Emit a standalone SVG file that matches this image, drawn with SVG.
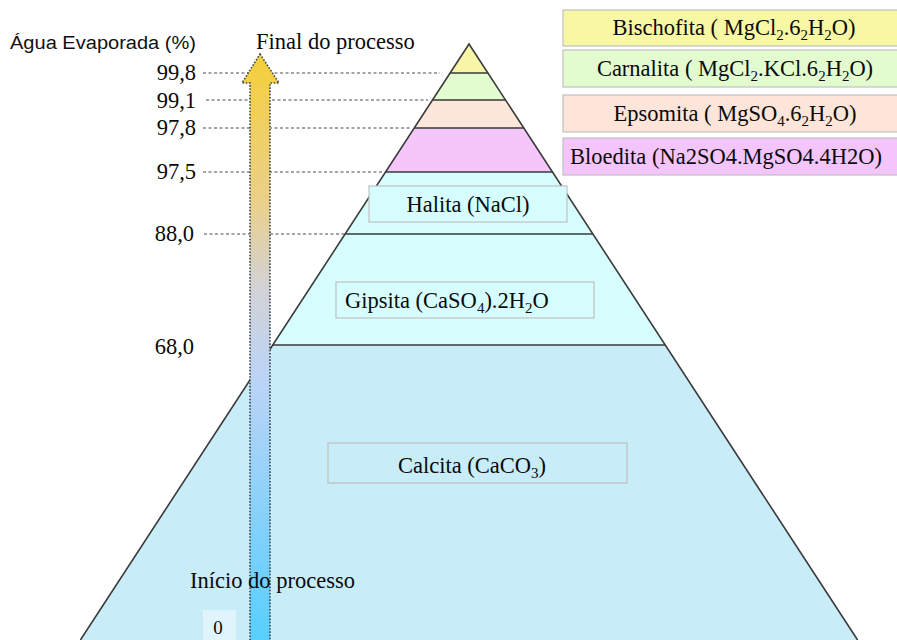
<svg xmlns="http://www.w3.org/2000/svg" width="897" height="640" viewBox="0 0 897 640">
<defs>
<linearGradient id="arrowGrad" x1="0" y1="54" x2="0" y2="640" gradientUnits="userSpaceOnUse">
<stop offset="0" stop-color="#f5cf38"/>
<stop offset="0.25" stop-color="#ead08a"/>
<stop offset="0.4" stop-color="#d2d2d6"/>
<stop offset="0.55" stop-color="#bcd4f6"/>
<stop offset="1" stop-color="#58cffd"/>
</linearGradient>
<style>
.serif{font-family:"Liberation Serif","Times New Roman",serif;font-size:22.5px;fill:#0a0a0a;}
.num{text-anchor:end;}
.mid{text-anchor:middle;}
.box{stroke:#c0c0c0;stroke-width:1.2;}
.dash{stroke:#4a4a4a;stroke-width:1;stroke-dasharray:3 2.5;fill:none;}
.edge{stroke:#3a3a3a;stroke-width:1.6;fill:none;}
.sub{font-size:15px;}
</style>
</defs>
<rect width="897" height="640" fill="#fff"/>

<g id="pyramid">
<polygon id="layer-calcita" points="272.7,345 665.3,345 857.6,640 80.4,640" fill="#c8ecf8"/>
<polygon id="layer-gipsita" points="345.1,234 592.9,234 665.3,345 272.7,345" fill="#d6feff"/>
<polygon id="layer-halita" points="385.5,172 552.5,172 592.9,234 345.1,234" fill="#d6feff"/>
<polygon id="layer-bloedita" points="414.2,128 523.8,128 552.5,172 385.5,172" fill="#f5c6fa"/>
<polygon id="layer-epsomita" points="432.5,100 505.5,100 523.8,128 414.2,128" fill="#fde6da"/>
<polygon id="layer-carnalita" points="450.1,73 487.9,73 505.5,100 432.5,100" fill="#e3fcd0"/>
<polygon id="layer-bischofita" points="469,44 487.9,73 450.1,73" fill="#f7f6a8"/>
<path class="edge" d="M80.4,640 L469,44 L857.6,640"/>
<path class="edge" d="M450.1,73 H487.9 M432.5,100 H505.5 M414.2,128 H523.8 M385.5,172 H552.5 M345.1,234 H592.9 M272.7,345 H665.3"/>
</g>

<g id="connectors">
<line class="dash" x1="203" y1="73" x2="440" y2="73"/>
<line class="dash" x1="206" y1="100" x2="428" y2="100"/>
<line class="dash" x1="203" y1="128" x2="412" y2="128"/>
<line class="dash" x1="203" y1="172" x2="382" y2="172"/>
<line class="dash" x1="204" y1="234" x2="345" y2="234"/>
<g id="process-arrow">
<polygon points="260,54 279,83 270,83 270,645 250,645 250,83 242,83" fill="url(#arrowGrad)" stroke="#3c4650" stroke-width="1.6" stroke-dasharray="1.6 1.6"/>
</g>
</g>

<g id="axis-title"><text x="10" y="49" font-family="Liberation Sans, Arial, sans-serif" font-size="18" fill="#111" textLength="186" lengthAdjust="spacingAndGlyphs">Água Evaporada  (%)</text></g>
<g id="final-label"><text class="serif" x="256" y="49">Final do processo</text></g>

<g id="axis-values">
<text class="serif num" x="196" y="80">99,8</text>
<text class="serif num" x="196" y="108">99,1</text>
<text class="serif num" x="196" y="135">97,8</text>
<text class="serif num" x="196" y="179">97,5</text>
<text class="serif num" x="194" y="241">88,0</text>
<text class="serif num" x="194" y="354">68,0</text>
</g>

<g id="box-bischofita">
<rect class="box" x="563" y="10" width="340" height="36" fill="#f7f7a4"/>
<text class="serif mid" x="734" y="35">Bischofita ( MgCl<tspan class="sub" dy="5">2</tspan><tspan dy="-5">.6</tspan><tspan class="sub" dy="5">2</tspan><tspan dy="-5">H</tspan><tspan class="sub" dy="5">2</tspan><tspan dy="-5">O)</tspan></text>
</g>
<g id="box-carnalita">
<rect class="box" x="563" y="50" width="340" height="37" fill="#e2fcd0"/>
<text class="serif mid" x="735" y="76">Carnalita ( MgCl<tspan class="sub" dy="5">2</tspan><tspan dy="-5">.KCl.6</tspan><tspan class="sub" dy="5">2</tspan><tspan dy="-5">H</tspan><tspan class="sub" dy="5">2</tspan><tspan dy="-5">O)</tspan></text>
</g>
<g id="box-epsomita">
<rect class="box" x="563" y="95" width="340" height="37" fill="#fde5d9"/>
<text class="serif mid" x="735" y="121">Epsomita ( MgSO<tspan class="sub" dy="5">4</tspan><tspan dy="-5">.6</tspan><tspan class="sub" dy="5">2</tspan><tspan dy="-5">H</tspan><tspan class="sub" dy="5">2</tspan><tspan dy="-5">O)</tspan></text>
</g>
<g id="box-bloedita">
<rect class="box" x="563" y="138" width="340" height="37" fill="#f4c5fa"/>
<text class="serif mid" x="726" y="164">Bloedita (Na2SO4.MgSO4.4H2O)</text>
</g>

<g id="box-halita">
<rect class="box" x="369" y="186" width="198" height="36" fill="#d6feff"/>
<text class="serif mid" x="468" y="212">Halita (NaCl)</text>
</g>
<g id="box-gipsita">
<rect class="box" x="336" y="282" width="258" height="36" fill="#d6feff"/>
<text class="serif" x="345" y="308">Gipsita (CaSO<tspan class="sub" dy="5">4</tspan><tspan dy="-5">).2H</tspan><tspan class="sub" dy="5">2</tspan><tspan dy="-5">O</tspan></text>
</g>
<g id="box-calcita">
<rect class="box" x="328" y="443" width="299" height="40" fill="#c8ecf8"/>
<text class="serif" x="398" y="473">Calcita (CaCO<tspan class="sub" dy="5">3</tspan><tspan dy="-5">)</tspan></text>
</g>

<g id="start-label"><text class="serif" x="190" y="588">Início do processo</text></g>
<g id="zero-label">
<rect x="203" y="610" width="33" height="32" fill="#e0f4fc"/>
<text class="serif mid" x="218" y="634" style="font-size:19px">0</text>
</g>
</svg>
